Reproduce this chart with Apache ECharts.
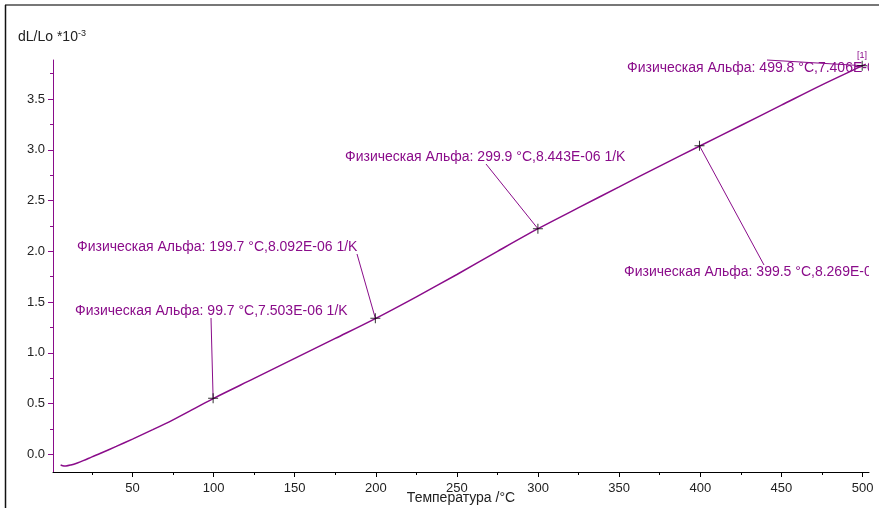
<!DOCTYPE html>
<html>
<head>
<meta charset="utf-8">
<script src="https://cdn.jsdelivr.net/npm/echarts@6/dist/echarts.min.js"></script>
<style>
  html, body { margin: 0; padding: 0; background: #fff; }
  #chart { width: 879px; height: 508px; }
</style>
</head>
<body>
<div id="chart"></div>
<script>
// Dilatometer curve: relative elongation dL/Lo (×10^-3) versus temperature (°C)
const temps = [5.7, 7, 9, 12, 16, 20, 25, 30, 40, 50, 62.5, 75, 87.5, 100, 125, 150, 175, 200,
               225, 250, 275, 300, 325, 350, 375, 400, 425, 450, 475, 500, 502];
const dLLo  = [-0.103, -0.112, -0.114, -0.105, -0.085, -0.060, -0.025, 0.008, 0.078, 0.150, 0.243,
               0.340, 0.445, 0.552, 0.748, 0.945, 1.142, 1.340, 1.552, 1.772, 2.000, 2.223, 2.430,
               2.635, 2.840, 3.040, 3.240, 3.440, 3.640, 3.829, 3.845];

// Evaluated points: temperature, dL/Lo at that point and physical alpha (1/K)
const markTemps = [99.7, 199.7, 299.9, 399.5, 499.8];
const markDL    = [0.552, 1.340, 2.223, 3.040, 3.829];
const markAlpha = ['7.503E-06', '8.092E-06', '8.443E-06', '8.269E-06', '7.406E-06'];

const xTicks = [50, 100, 150, 200, 250, 300, 350, 400, 450, 500];
const xMinor = [25, 75, 125, 175, 225, 275, 325, 375, 425, 475];
const yTicks = [0, 0.5, 1.0, 1.5, 2.0, 2.5, 3.0, 3.5];
const yMinor = [0.25, 0.75, 1.25, 1.75, 2.25, 2.75, 3.25, 3.75];

const PURPLE = '#8a0c8a';
const FONT = 'Liberation Sans, Arial, sans-serif';

// label placement for each evaluated point: text left/middle and leader start
const labelLayout = [
  { x: 75,  y: 311, ax: 211, ay: 318 },
  { x: 77,  y: 247, ax: 357, ay: 254 },
  { x: 345, y: 157, ax: 486, ay: 164 },
  { x: 624, y: 272, ax: 764, ay: 265 },
  { x: 627, y: 68,  ax: 767, ay: 60 }
];

const chart = echarts.init(document.getElementById('chart'), null, { renderer: 'canvas' });

const xMin = 1, xMax = 504, yMin = -0.174, yMax = 3.885;

const baseX = {
  type: 'value', min: xMin, max: xMax, gridIndex: 0,
  splitLine: { show: false }
};
const baseY = {
  type: 'value', min: yMin, max: yMax, gridIndex: 0,
  splitLine: { show: false }
};

chart.setOption({
  animation: false,
  backgroundColor: '#fff',
  grid: { left: 53, right: 10, top: 60, bottom: 36, containLabel: false, outerBoundsMode: 'none' },
  xAxis: [
    Object.assign({}, baseX, {
      position: 'bottom',
      axisLine: { show: true, onZero: false, lineStyle: { color: '#000', width: 1 } },
      axisTick: { show: true, length: 5, customValues: xTicks, lineStyle: { color: '#000' } },
      axisLabel: { show: true, customValues: xTicks, color: '#222', fontSize: 13, fontFamily: FONT, margin: 10 },
      name: 'Температура /°C', nameLocation: 'middle', nameGap: 19, nameMoveOverlap: false,
      nameTextStyle: { color: '#222', fontSize: 14, fontFamily: FONT }
    }),
    Object.assign({}, baseX, {
      position: 'bottom',
      axisLine: { show: false, onZero: false },
      axisTick: { show: true, length: 3, customValues: xMinor, lineStyle: { color: '#000' } },
      axisLabel: { show: false }
    })
  ],
  yAxis: [
    Object.assign({}, baseY, {
      position: 'left',
      axisLine: { show: true, onZero: false, lineStyle: { color: PURPLE, width: 1 } },
      axisTick: { show: true, length: 5, customValues: yTicks, lineStyle: { color: PURPLE } },
      axisLabel: {
        show: true, customValues: yTicks, color: '#222', fontSize: 13, fontFamily: FONT, margin: 8,
        formatter: v => v.toFixed(1)
      }
    }),
    Object.assign({}, baseY, {
      position: 'left',
      axisLine: { show: false, onZero: false },
      axisTick: { show: true, length: 3, customValues: yMinor, lineStyle: { color: PURPLE } },
      axisLabel: { show: false }
    })
  ],
  series: [
    {
      type: 'line',
      xAxisIndex: 0, yAxisIndex: 0,
      data: temps.map((t, i) => [t, dLLo[i]]),
      smooth: 0.3,
      showSymbol: false,
      lineStyle: { color: PURPLE, width: 1.5 },
      z: 3
    },
    {
      type: 'scatter',
      xAxisIndex: 0, yAxisIndex: 0,
      data: markTemps.map((t, i) => [t, markDL[i]]),
      symbol: 'path://M0,4.5L10,4.5L10,5.5L0,5.5ZM4.5,0L5.5,0L5.5,10L4.5,10Z',
      symbolSize: 10,
      itemStyle: { color: '#000' },
      z: 5
    }
  ]
});

// Annotations: text, leader line to each evaluated point
const graphics = [];
markTemps.forEach((t, i) => {
  const p = chart.convertToPixel({ xAxisIndex: 0, yAxisIndex: 0 }, [t, markDL[i]]);
  const L = labelLayout[i];
  graphics.push({
    type: 'line', z: 4, silent: true,
    shape: { x1: L.ax, y1: L.ay, x2: p[0], y2: p[1] },
    style: { stroke: PURPLE, lineWidth: 1 }
  });
  graphics.push({
    type: 'text', z: 6, silent: true, x: L.x, y: L.y,
    style: {
      text: 'Физическая Альфа: ' + t.toFixed(1) + ' °C,' + markAlpha[i] + ' 1/K',
      fill: PURPLE, font: '14px ' + FONT, textVerticalAlign: 'middle', textAlign: 'left'
    }
  });
});
// marker tag at the last point
graphics.push({
  type: 'text', z: 6, silent: true, x: 862, y: 56,
  style: { text: '[1]', fill: PURPLE, font: '9px ' + FONT, textAlign: 'center', textVerticalAlign: 'middle' }
});
// plot area clips annotation text at its right edge
graphics.push({ type: 'rect', z: 10, silent: true, shape: { x: 869, y: 58, width: 12, height: 22 }, style: { fill: '#fff' } });
graphics.push({ type: 'rect', z: 10, silent: true, shape: { x: 869, y: 261, width: 12, height: 22 }, style: { fill: '#fff' } });
// axis title with superscript exponent
graphics.push({
  type: 'text', z: 6, silent: true, x: 18, y: 37,
  style: {
    text: '{b|dL/Lo *10}{s|-3}',
    textVerticalAlign: 'middle',
    rich: {
      b: { fill: '#222', color: '#222', fontSize: 14, fontFamily: FONT },
      s: { fill: '#222', color: '#222', fontSize: 9, fontFamily: FONT, verticalAlign: 'top', padding: [0, 0, 6, 0] }
    }
  }
});
// outer frame
graphics.push({ type: 'line', z: 6, silent: true, shape: { x1: 5, y1: 5, x2: 879, y2: 5 }, style: { stroke: '#777', lineWidth: 2 } });
graphics.push({ type: 'line', z: 6, silent: true, shape: { x1: 5.5, y1: 5, x2: 5.5, y2: 508 }, style: { stroke: '#111', lineWidth: 1.5 } });

chart.setOption({ graphic: graphics });
</script>
</body>
</html>
